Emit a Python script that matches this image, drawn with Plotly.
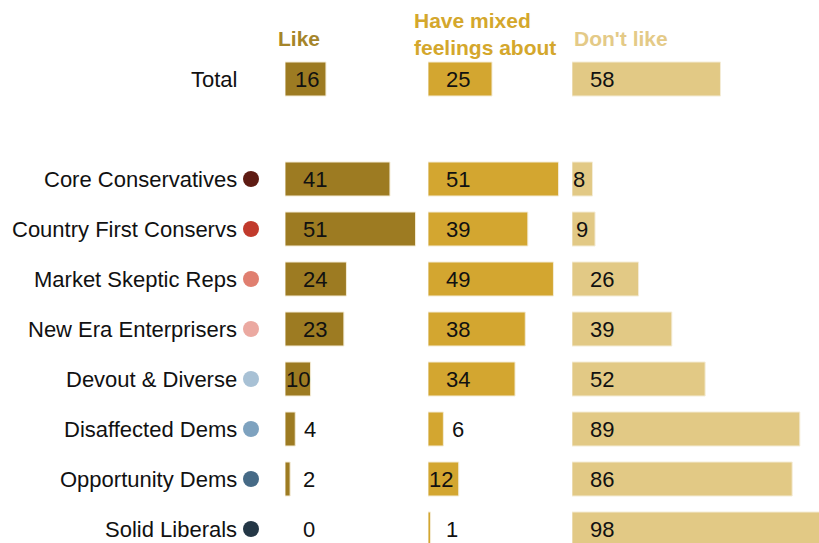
import plotly.graph_objects as go

# ---- data ----
categories = ["Total", "Core Conservatives", "Country First Conservs", "Market Skeptic Reps",
              "New Era Enterprisers", "Devout & Diverse", "Disaffected Dems",
              "Opportunity Dems", "Solid Liberals"]
row_pos = [0, 2, 3, 4, 5, 6, 7, 8, 9]
like = [16, 41, 51, 24, 23, 10, 4, 2, 0]
mixed = [25, 51, 39, 49, 38, 34, 6, 12, 1]
dont_like = [58, 8, 9, 26, 39, 52, 89, 86, 98]
dot_colors = [None, "#5e1b13", "#c13a2c", "#e07f70", "#eba9a1",
              "#a8c1d5", "#7ea2bf", "#466a86", "#243746"]
series_names = ["Like", "Have mixed<br>feelings about", "Don't like"]
series_values = [like, mixed, dont_like]
bar_colors = ["#9d7b22", "#d3a630", "#e2c985"]
header_colors = ["#a5852a", "#d4a72c", "#e4ca87"]

# ---- layout constants ----
W, H = 819, 543
PX = 2.56              # pixels per percentage point
col_start = [285, 428, 572]
col_end = [428, 572, 819]
FONT = "Liberation Sans, Arial, sans-serif"
FS = 22
DIGIT_W = 0.556 * FS

fig = go.Figure()
axes = ["x", "x2", "x3"]

for i, (vals, ax) in enumerate(zip(series_values, axes)):
    fig.add_trace(go.Bar(
        x=vals, y=row_pos, orientation="h", width=0.68,
        marker=dict(color=bar_colors[i],
                    line=dict(color="#f4ecd6", width=[0 if v == 0 else 1 for v in vals])),
        xaxis=ax, yaxis="y", showlegend=False, hoverinfo="skip"))
    # value labels
    for v, r in zip(vals, row_pos):
        bar_px = v * PX
        tw = len(str(v)) * DIGIT_W
        if bar_px >= 20:
            off = min(17, max(0, bar_px - tw - 8))
        else:
            off = max(17, bar_px + 8)
        fig.add_annotation(x=off / PX, y=r, xref=ax, yref="y", text=str(v),
                           xanchor="left", yanchor="middle", showarrow=False,
                           borderpad=0,
                           font=dict(family=FONT, size=FS, color="#111111"))

# dots next to group labels
grp_rows = [r for r, c in zip(row_pos, dot_colors) if c]
grp_cols = [c for c in dot_colors if c]
fig.add_trace(go.Scatter(
    x=[251] * len(grp_rows), y=grp_rows, mode="markers",
    marker=dict(size=16, color=grp_cols), xaxis="x4", yaxis="y",
    showlegend=False, hoverinfo="skip"))

# row labels
for cat, r in zip(categories, row_pos):
    fig.add_annotation(x=238, y=r, xref="x4", yref="y", text=cat,
                       xanchor="right", yanchor="middle", showarrow=False,
                       borderpad=0,
                       font=dict(family=FONT, size=FS, color="#111111"))

# headers
header_x = [277, 413, 573]
header_y = [38, 34, 38]
for name, hx, hy, hc in zip(series_names, header_x, header_y, header_colors):
    fig.add_annotation(x=hx / W, y=1 - hy / H, xref="paper", yref="paper",
                       text=f"<b>{name}</b>", xanchor="left", yanchor="middle",
                       align="left", showarrow=False, borderpad=0,
                       font=dict(family=FONT, size=21, color=hc))

hidden = dict(visible=False, showgrid=False, zeroline=False, fixedrange=True)
fig.update_layout(
    width=W, height=H,
    margin=dict(l=0, r=0, t=0, b=0),
    paper_bgcolor="white", plot_bgcolor="white",
    barmode="overlay",
    xaxis=dict(domain=[col_start[0] / W, col_end[0] / W],
               range=[0, (col_end[0] - col_start[0]) / PX], anchor="y", **hidden),
    xaxis2=dict(domain=[col_start[1] / W, col_end[1] / W],
                range=[0, (col_end[1] - col_start[1]) / PX], anchor="y", **hidden),
    xaxis3=dict(domain=[col_start[2] / W, col_end[2] / W],
                range=[0, (col_end[2] - col_start[2]) / PX], anchor="y", **hidden),
    xaxis4=dict(domain=[0, col_start[0] / W], range=[0, col_start[0]],
                anchor="y", **hidden),
    yaxis=dict(range=[9.28, -1.58], **hidden),
)

fig.write_html("out.html", config={"displayModeBar": False},
               post_script="document.body.style.margin='0px';"
                           "document.body.style.overflow='hidden';")
